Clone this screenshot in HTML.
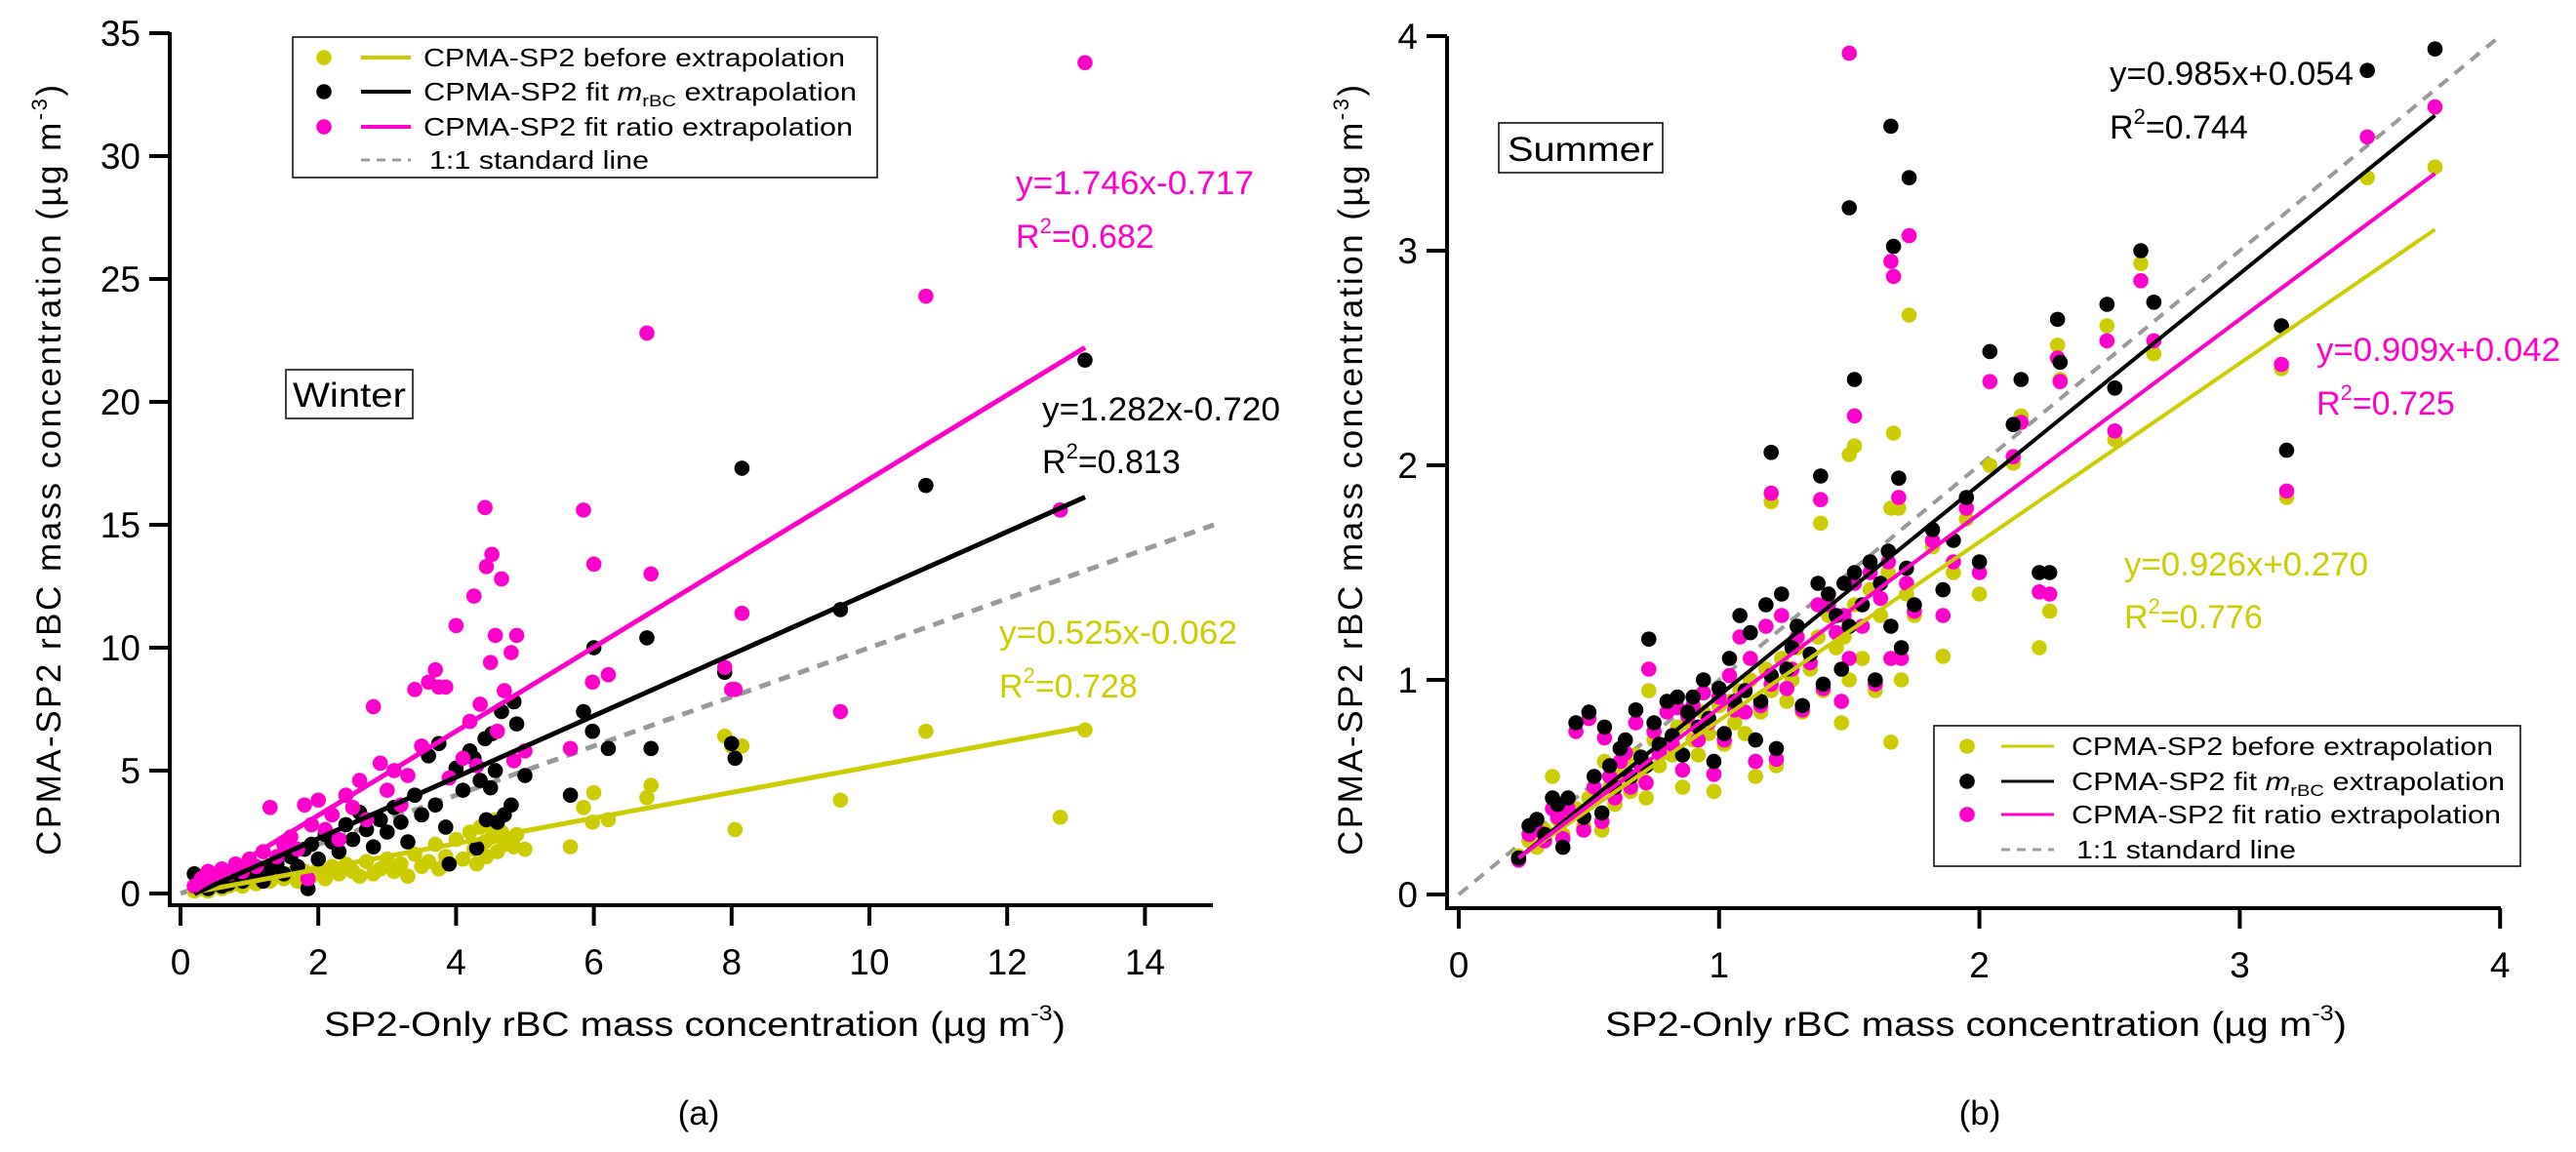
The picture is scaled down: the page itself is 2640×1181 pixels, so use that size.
<!DOCTYPE html>
<html><head><meta charset="utf-8">
<style>
html,body{margin:0;padding:0;background:#fff;}
svg{display:block;font-family:"Liberation Sans",Arial,sans-serif;}
</style></head>
<body>
<svg id="chart" width="2640" height="1181" viewBox="0 0 2640 1181" xmlns="http://www.w3.org/2000/svg">
<g id="gA"></g>
<g id="gB"></g>
</svg>
<script>
// ---------- Winter data: x, before, fit mrBC, fit ratio ----------
const winterX =      [0.2,0.3,0.4,0.5,0.6,0.7,0.8,0.9,1.0,1.1,1.2,1.3,1.4,1.5,1.6,1.7,1.8,1.85,1.9,2.0,2.1,2.2,2.3,2.4,2.5,2.6,2.7,2.8,2.9,3.0,3.1,3.2,3.3,3.4,3.5,3.6,3.7,3.75,3.85,3.9,4.0,4.1,4.2,4.26,4.3,4.35,4.42,4.44,4.5,4.52,4.57,4.6,4.66,4.7,4.8,4.84,4.88,5.0,5.66,5.85,6.0,6.21,5.98,6.77,6.83,7.9,8.0,8.05,8.15,9.58,10.82,12.77,13.13];
const winterBefore = [0.1,0.2,0.1,0.3,0.2,0.3,0.4,0.3,0.5,0.4,0.6,0.5,0.7,0.6,0.8,0.5,0.9,0.2,0.7,1.0,0.6,1.1,0.8,1.2,0.9,0.7,1.3,0.8,1.0,1.4,0.9,1.2,0.7,1.6,1.1,1.3,2.0,1.0,1.5,1.2,2.2,1.4,2.5,1.8,1.2,2.7,2.1,1.5,2.8,2.3,3.0,1.7,2.5,2.0,2.2,1.9,2.4,1.8,1.9,3.5,4.1,3.0,2.9,3.9,4.4,6.4,6.0,2.6,6.0,3.8,6.6,3.1,6.65];
const winterMrbc =   [0.8,0.4,0.2,0.5,0.3,0.4,0.6,0.5,0.7,0.9,0.5,1.0,1.2,0.8,1.5,1.1,1.8,0.2,2.0,1.4,2.4,2.1,1.7,2.8,2.2,3.3,2.6,1.9,3.0,2.5,3.5,2.9,2.1,4.0,3.2,5.6,3.6,6.1,2.7,1.2,5.1,4.2,5.8,5.5,1.85,4.6,6.3,3.0,4.3,6.5,5.0,2.9,7.4,3.2,3.6,7.8,6.9,4.8,4.0,7.4,10.0,5.9,6.6,10.4,5.9,9.0,6.1,5.5,17.3,11.55,16.6,15.6,21.7];
const winterRatio =  [0.3,0.6,0.9,0.7,1.0,0.8,1.2,0.9,1.4,1.1,1.7,3.5,1.5,2.0,2.3,1.8,3.6,0.6,2.8,3.8,2.6,3.2,2.2,4.0,3.5,4.6,3.0,7.6,5.3,4.2,5.0,3.6,4.8,8.3,6.0,8.6,9.1,8.4,8.4,4.7,10.9,5.5,7.0,12.1,5.2,7.7,15.7,13.3,9.4,13.8,10.5,6.6,12.8,8.25,9.8,5.4,10.5,5.8,5.9,15.6,13.4,8.9,8.6,22.8,13.0,9.2,8.3,8.3,11.4,7.4,24.3,15.6,33.8];
// drawn fit lines [slope, intercept] as they appear in the figure
const winterFits = [[0.52,-0.05],[1.248,-0.26],[1.71,-0.24]];
const winterXTicks = [0,2,4,6,8,10,12,14];
const winterYTicks = [0,5,10,15,20,25,30,35];

// ---------- Summer data ----------
const summerX =      [3.75,3.49,1.50,1.67,1.66,1.73,2.62,3.18,3.16,2.49,2.67,2.30,2.31,2.52,2.04,2.16,2.13,1.52,1.20,1.39,1.69,2.23,2.27,1.86,1.66,0.36,
0.23,0.27,0.30,0.33,0.38,0.40,0.42,0.45,0.48,0.50,0.52,0.55,0.56,0.58,0.60,0.62,0.64,0.66,0.68,0.70,0.72,0.73,0.75,0.77,0.80,0.82,0.84,0.86,0.88,0.90,0.92,0.94,0.96,0.98,1.00,1.02,1.04,1.06,1.08,1.10,1.12,1.14,1.16,1.18,1.20,1.22,1.24,1.26,1.28,1.30,1.32,1.35,1.38,1.40,1.42,1.45,1.47,1.48,1.50,1.52,1.55,1.58,1.60,1.62,1.65,1.70,1.72,1.75,1.82,1.90,1.95,2.00];
const summerBefore = [3.39,3.34,2.05,2.15,1.80,2.70,2.94,1.85,2.45,2.65,2.52,2.56,2.40,2.12,2.00,2.23,2.01,2.09,1.83,1.73,1.80,1.15,1.32,1.11,0.71,0.55,
0.18,0.25,0.22,0.30,0.35,0.28,0.38,0.40,0.32,0.45,0.48,0.30,0.62,0.50,0.42,0.55,0.60,0.48,0.65,0.55,0.45,0.95,0.72,0.60,0.70,0.65,0.78,0.50,0.80,0.72,0.65,0.85,0.75,0.48,0.88,0.70,0.90,0.80,0.95,0.75,1.00,0.55,0.85,1.05,0.95,0.60,1.10,0.90,1.00,1.15,0.85,1.05,1.20,0.95,1.30,1.15,0.80,1.20,1.00,1.35,1.10,1.42,0.95,1.30,1.50,1.00,1.40,1.30,1.62,1.50,1.75,1.40];
const summerMrbc =   [3.94,3.84,3.20,3.02,3.58,3.34,3.00,2.07,2.65,2.75,2.76,2.68,2.48,2.36,2.53,2.40,2.19,2.40,2.06,1.95,1.94,1.50,1.50,1.42,1.25,0.45,
0.17,0.32,0.35,0.28,0.42,0.22,0.45,0.80,0.36,0.85,0.55,0.38,0.78,0.60,0.50,0.68,0.72,0.55,0.86,0.64,0.60,1.19,0.80,0.70,0.90,0.74,0.92,0.65,0.85,0.92,0.78,1.00,0.82,0.62,0.96,0.75,1.10,0.90,1.30,0.95,1.22,0.72,0.90,1.35,1.02,0.68,1.40,1.05,1.15,1.25,0.88,1.12,1.45,0.98,1.40,1.30,1.05,1.45,1.25,1.50,1.35,1.55,1.00,1.45,1.60,1.15,1.52,1.35,1.70,1.65,1.85,1.55];
const summerRatio =  [3.67,3.53,3.92,2.88,2.95,3.07,2.86,1.88,2.47,2.58,2.58,2.50,2.39,2.16,2.39,2.20,2.04,2.23,1.87,1.84,1.85,1.41,1.40,1.30,1.10,0.40,
0.16,0.28,0.30,0.25,0.36,0.26,0.40,0.76,0.30,0.82,0.50,0.34,0.73,0.55,0.45,0.62,0.66,0.50,0.80,0.60,0.52,1.05,0.76,0.66,0.85,0.70,0.87,0.58,0.83,0.88,0.72,0.94,0.80,0.56,0.92,0.72,1.02,0.86,1.20,0.85,1.10,0.62,0.88,1.25,0.98,0.63,1.30,0.96,1.05,1.20,0.86,1.08,1.35,0.96,1.35,1.22,0.90,1.30,1.10,1.45,1.25,1.50,0.98,1.38,1.55,1.10,1.45,1.32,1.65,1.55,1.80,1.50];
const summerFits = [[0.832,-0.021],[0.983,-0.056],[0.906,-0.038]];
const summerXTicks = [0,1,2,3,4];
const summerYTicks = [0,1,2,3,4];

const OLIVE='#cccc00', BLACK='#000000', PINK='#ff00cc', GRAY='#999999';
const NS='http://www.w3.org/2000/svg';
function mk(parent, tag, attrs, text){
  const e=document.createElementNS(NS,tag);
  for(const k in attrs) e.setAttribute(k,attrs[k]);
  if(text!==undefined) e.textContent=text;
  parent.appendChild(e); return e;
}

function panel(g, cfg){
  const X=v=>cfg.x0+v*cfg.kx, Y=v=>cfg.y0-v*cfg.ky;
  let l=mk(g,'line',{x1:X(0),y1:Y(0),x2:X(cfg.oneMax),y2:Y(cfg.oneMax),stroke:GRAY,'stroke-width':cfg.lw,'stroke-dasharray':'12,9'});
  
  
  const cols=[OLIVE,BLACK,PINK], names=['before','mrbc','ratio'];
  const series=[cfg.before,cfg.mrbc,cfg.ratio];
  const ptsG=mk(g,'g',{});
  
  
  for(const si of cfg.order){
    for(let i=0;i<cfg.xs.length;i++){
      const c=mk(ptsG,'circle',{cx:X(cfg.xs[i]),cy:Y(series[si][i]),r:7.8,fill:cols[si]});
      
      
    }
  }
  for(let s=0;s<3;s++){
    const [m,b]=cfg.fits[s];
    const f=mk(g,'line',{x1:X(cfg.fitMin),y1:Y(m*cfg.fitMin+b),x2:X(cfg.fitMax),y2:Y(m*cfg.fitMax+b),stroke:cols[s],'stroke-width':cfg.lw});
    
    
  }
  const ax=mk(g,'path',{d:`M${cfg.axX},${cfg.yTop} V${cfg.axY} H${cfg.xRight}`,fill:'none',stroke:'#000','stroke-width':4});
  
  
  for(const t of cfg.xt){
    const tk=mk(g,'line',{x1:X(t),y1:cfg.axY,x2:X(t),y2:cfg.axY+21,stroke:'#000','stroke-width':4});
    
    
    const tl=mk(g,'text',{x:X(t),y:cfg.axY+71,'font-size':37,'text-anchor':'middle'},String(t));
    
    
  }
  for(const t of cfg.yt){
    const tk=mk(g,'line',{x1:cfg.axX-21,y1:Y(t),x2:cfg.axX,y2:Y(t),stroke:'#000','stroke-width':4});
    
    
    const tl=mk(g,'text',{x:cfg.axX-30,y:Y(t)+13,'font-size':37,'text-anchor':'end'},String(t));
    
    
  }
}

const gA=document.getElementById('gA'), gB=document.getElementById('gB');
panel(gA,{x0:185,kx:70.6,y0:916,ky:25.2,xs:winterX,before:winterBefore,mrbc:winterMrbc,ratio:winterRatio,fits:winterFits,
  fitMin:0.2,fitMax:13.13,oneMax:15,order:[0,1,2],lw:5,axX:174,axY:928,yTop:33,xRight:1243,xt:winterXTicks,yt:winterYTicks});
panel(gB,{x0:1495,kx:266.8,y0:917,ky:220,xs:summerX,before:summerBefore,mrbc:summerMrbc,ratio:summerRatio,fits:summerFits,
  fitMin:0.23,fitMax:3.75,oneMax:4,order:[0,2,1],lw:4,axX:1483,axY:931,yTop:37,xRight:2563,xt:summerXTicks,yt:summerYTicks});
</script>

<svg width="2640" height="1181" viewBox="0 0 2640 1181" style="position:absolute;left:0;top:0;font-family:'Liberation Sans',Arial,sans-serif">
  <text transform="translate(62,482) rotate(-90)" text-anchor="middle" font-size="35" textLength="790" lengthAdjust="spacing">CPMA-SP2 rBC mass concentration (µg m<tspan dy="-14" font-size="22">-3</tspan><tspan dy="14">)</tspan></text>
  <text transform="translate(1396,482) rotate(-90)" text-anchor="middle" font-size="35" textLength="790" lengthAdjust="spacing">CPMA-SP2 rBC mass concentration (µg m<tspan dy="-14" font-size="22">-3</tspan><tspan dy="14">)</tspan></text>
  <text x="332" y="1062" font-size="35" textLength="760" lengthAdjust="spacingAndGlyphs">SP2-Only rBC mass concentration (µg m<tspan dy="-16" font-size="22">-3</tspan><tspan dy="16">)</tspan></text>
  <text x="1645" y="1062" font-size="35" textLength="760" lengthAdjust="spacingAndGlyphs">SP2-Only rBC mass concentration (µg m<tspan dy="-16" font-size="22">-3</tspan><tspan dy="16">)</tspan></text>
  <text x="716" y="1153" font-size="35" text-anchor="middle">(a)</text>
  <text x="2029" y="1153" font-size="35" text-anchor="middle">(b)</text>

  <g>
    <rect x="293" y="379" width="130" height="50" fill="#fff" stroke="#000" stroke-width="1.5"/>
    <text x="358" y="417" font-size="35" text-anchor="middle" textLength="116" lengthAdjust="spacingAndGlyphs">Winter</text>
  </g>
  <g>
    <rect x="1536" y="126" width="168" height="51" fill="#fff" stroke="#000" stroke-width="1.5"/>
    <text x="1620" y="165" font-size="35" text-anchor="middle" textLength="150" lengthAdjust="spacingAndGlyphs">Summer</text>
  </g>

  <g font-size="34">
    <text fill="#ff00cc" x="1041" y="199" textLength="244" lengthAdjust="spacingAndGlyphs">y=1.746x-0.717</text>
    <text fill="#ff00cc" x="1041" y="254">R<tspan dy="-15" font-size="22">2</tspan><tspan dy="15">=0.682</tspan></text>
    <text fill="#000" x="1068" y="431" textLength="244" lengthAdjust="spacingAndGlyphs">y=1.282x-0.720</text>
    <text fill="#000" x="1068" y="485">R<tspan dy="-15" font-size="22">2</tspan><tspan dy="15">=0.813</tspan></text>
    <text fill="#cccc00" x="1024" y="660" textLength="244" lengthAdjust="spacingAndGlyphs">y=0.525x-0.062</text>
    <text fill="#cccc00" x="1024" y="715">R<tspan dy="-15" font-size="22">2</tspan><tspan dy="15">=0.728</tspan></text>
  </g>
  <g font-size="34">
    <text fill="#000" x="2162" y="87" textLength="250" lengthAdjust="spacingAndGlyphs">y=0.985x+0.054</text>
    <text fill="#000" x="2162" y="142">R<tspan dy="-15" font-size="22">2</tspan><tspan dy="15">=0.744</tspan></text>
    <text fill="#ff00cc" x="2374" y="370" textLength="250" lengthAdjust="spacingAndGlyphs">y=0.909x+0.042</text>
    <text fill="#ff00cc" x="2374" y="425">R<tspan dy="-15" font-size="22">2</tspan><tspan dy="15">=0.725</tspan></text>
    <text fill="#cccc00" x="2177" y="590" textLength="250" lengthAdjust="spacingAndGlyphs">y=0.926x+0.270</text>
    <text fill="#cccc00" x="2177" y="644">R<tspan dy="-15" font-size="22">2</tspan><tspan dy="15">=0.776</tspan></text>
  </g>

  <g font-size="26">
    <rect x="300" y="38" width="599" height="144" fill="#fff" stroke="#000" stroke-width="1.5"/>
    <g>
      <circle cx="332" cy="59" r="7.8" fill="#cccc00"/><line x1="370" y1="59" x2="421" y2="59" stroke="#cccc00" stroke-width="4"/>
      <text x="434" y="68" textLength="432" lengthAdjust="spacingAndGlyphs">CPMA-SP2  before  extrapolation</text></g>
    <g>
      <circle cx="332" cy="94" r="7.8" fill="#000"/><line x1="370" y1="94" x2="421" y2="94" stroke="#000" stroke-width="4"/>
      <text x="434" y="103" textLength="444" lengthAdjust="spacingAndGlyphs">CPMA-SP2  fit <tspan font-style="italic">m</tspan><tspan font-size="17" dy="6">rBC</tspan><tspan dy="-6"> extrapolation</tspan></text></g>
    <g>
      <circle cx="332" cy="130" r="7.8" fill="#ff00cc"/><line x1="370" y1="130" x2="421" y2="130" stroke="#ff00cc" stroke-width="4"/>
      <text x="434" y="139" textLength="440" lengthAdjust="spacingAndGlyphs">CPMA-SP2  fit ratio extrapolation</text></g>
    <g>
      <line x1="370" y1="164" x2="421" y2="164" stroke="#999" stroke-width="3" stroke-dasharray="9,7"/>
      <text x="440" y="173" textLength="225" lengthAdjust="spacingAndGlyphs">1:1  standard line</text></g>
  </g>
  <g font-size="26">
    <rect x="1982" y="744" width="601" height="144" fill="#fff" stroke="#000" stroke-width="1.5"/>
    <g>
      <circle cx="2016" cy="765" r="7.8" fill="#cccc00"/><line x1="2051" y1="765" x2="2105" y2="765" stroke="#cccc00" stroke-width="3"/>
      <text x="2123" y="774" textLength="432" lengthAdjust="spacingAndGlyphs">CPMA-SP2  before  extrapolation</text></g>
    <g>
      <circle cx="2016" cy="801" r="7.8" fill="#000"/><line x1="2051" y1="801" x2="2105" y2="801" stroke="#000" stroke-width="3"/>
      <text x="2123" y="810" textLength="444" lengthAdjust="spacingAndGlyphs">CPMA-SP2  fit <tspan font-style="italic">m</tspan><tspan font-size="17" dy="6">rBC</tspan><tspan dy="-6"> extrapolation</tspan></text></g>
    <g>
      <circle cx="2016" cy="835" r="7.8" fill="#ff00cc"/><line x1="2051" y1="835" x2="2105" y2="835" stroke="#ff00cc" stroke-width="3"/>
      <text x="2123" y="844" textLength="440" lengthAdjust="spacingAndGlyphs">CPMA-SP2  fit ratio extrapolation</text></g>
    <g>
      <line x1="2051" y1="871" x2="2105" y2="871" stroke="#999" stroke-width="3" stroke-dasharray="9,7"/>
      <text x="2128" y="880" textLength="225" lengthAdjust="spacingAndGlyphs">1:1  standard line</text></g>
  </g>
</svg>
</body></html>
